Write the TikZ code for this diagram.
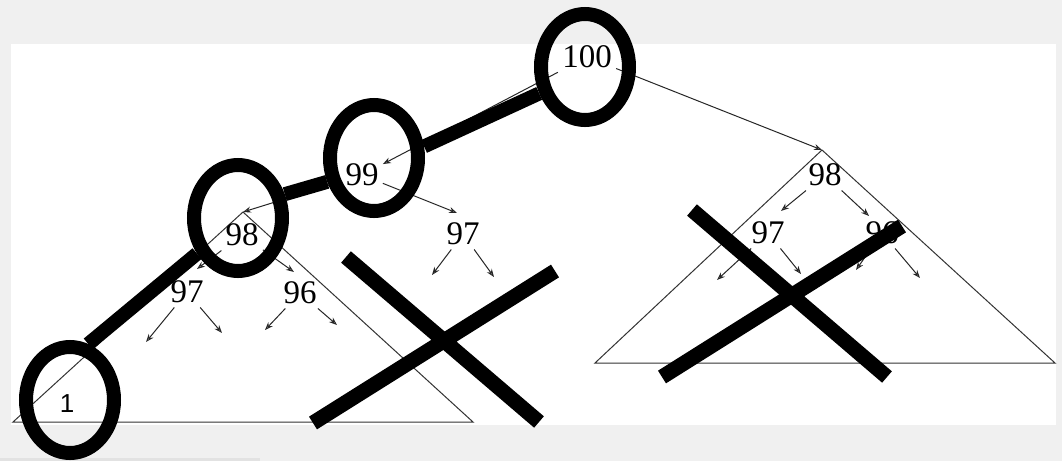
\documentclass[tikz,border=0pt]{standalone}
\usepackage{fontspec}
\setmainfont{Liberation Serif}
\newfontfamily\labelsans{Liberation Sans}
\usetikzlibrary{arrows.meta,shapes.geometric}
\usepackage{xcolor}
\definecolor{panelgray}{HTML}{F0F0F0}
\definecolor{stripgray}{HTML}{E2E2E2}

\tikzset{
  key/.style={inner sep=2pt,font=\fontsize{16.5}{18}\selectfont},
  arr/.style={->,black!85,line width=0.5pt},
  heapside/.style={black!80,line width=0.5pt,line join=miter},
  ring/.style={ellipse,draw,line width=7pt,minimum width=44pt,minimum height=53pt,inner sep=0pt},
  chain/.style={line width=7pt,line cap=butt},
  cross/.style={line width=7.5pt,line cap=butt}
}

\begin{document}
\begin{tikzpicture}[x=0.5pt,y=-0.5pt,>={Stealth[open,length=4pt,width=3pt]}]
\useasboundingbox (0,0) rectangle (1062,461);
\fill[panelgray] (0,0) rectangle (1062,461);
\fill[stripgray] (0,458) rectangle (260,461);
\fill[white] (11,44) rectangle (1056,425);

% the two heaps
\coordinate (lapex) at (243,212);
\coordinate (lleft) at (13,422);
\coordinate (lright) at (473,422);
\coordinate (rapex) at (822,150);
\coordinate (rleft) at (595,363);
\coordinate (rright) at (1055,363);
\draw[heapside] (lapex) -- (lleft) -- (lright) -- cycle;
\draw[heapside] (rapex) -- (rleft) -- (rright) -- cycle;

% keys
\node[key] (n100) at (587,57) {100};
\node[key] (n99) at (362,175) {99};
\node[key] (n98) at (242,235) {98};
\node[key] (n97) at (187,292) {97};
\node[key] (n96) at (300,293) {96};
\node[key] (n97b) at (463,234) {97};
\node[key] (m98) at (825,175) {98};
\node[key] (m97) at (768,233) {97};
\node[key] (m96) at (882,233) {96};
\node[font=\labelsans\fontsize{13}{15}\selectfont,inner sep=1pt] (n1) at (67,404) {1};

% free arrow ends
\coordinate (t97) at (197,269);
\coordinate (t96) at (294,272);
\coordinate (t97b) at (457,213);
\coordinate (u97l) at (146,342);
\coordinate (u97r) at (222,333);
\coordinate (u96l) at (265,330);
\coordinate (u96r) at (337,325);
\coordinate (u97bl) at (432,275);
\coordinate (u97br) at (494,277);
\coordinate (s97) at (781,211);
\coordinate (s96) at (869,216);
\coordinate (v97l) at (717,280);
\coordinate (v97r) at (801,274);
\coordinate (v96l) at (856,270);
\coordinate (v96r) at (920,278);

\draw[arr] (n100) -- (n99);
\draw[arr] (n100) -- (rapex);
\draw[arr] (n99) -- (lapex);
\draw[arr] (n99) -- (t97b);
\draw[arr] (n98) -- (t97);
\draw[arr] (n98) -- (t96);
\draw[arr] (n97) -- (u97l);
\draw[arr] (n97) -- (u97r);
\draw[arr] (n96) -- (u96l);
\draw[arr] (n96) -- (u96r);
\draw[arr] (n97b) -- (u97bl);
\draw[arr] (n97b) -- (u97br);
\draw[arr] (m98) -- (s97);
\draw[arr] (m98) -- (s96);
\draw[arr] (m97) -- (v97l);
\draw[arr] (m97) -- (v97r);
\draw[arr] (m96) -- (v96l);
\draw[arr] (m96) -- (v96r);

% the path down to the last leaf
\node[ring] (c100) at (585,67) {};
\node[ring] (c99) at (374,158) {};
\node[ring] (c98) at (238,218) {};
\node[ring] (c1) at (70,400) {};
\draw[chain] (c1.72) -- (c98.221);
\draw[chain] (c98.27) -- (c99.207);
\draw[chain] (c99.13) -- (c100.210);

% crossed out subtrees
\draw[cross] (346,257) -- (539,422) (313,423) -- (555,271);
\draw[cross] (692,210) -- (887,377) (662,377) -- (902,226);
\end{tikzpicture}
\end{document}
